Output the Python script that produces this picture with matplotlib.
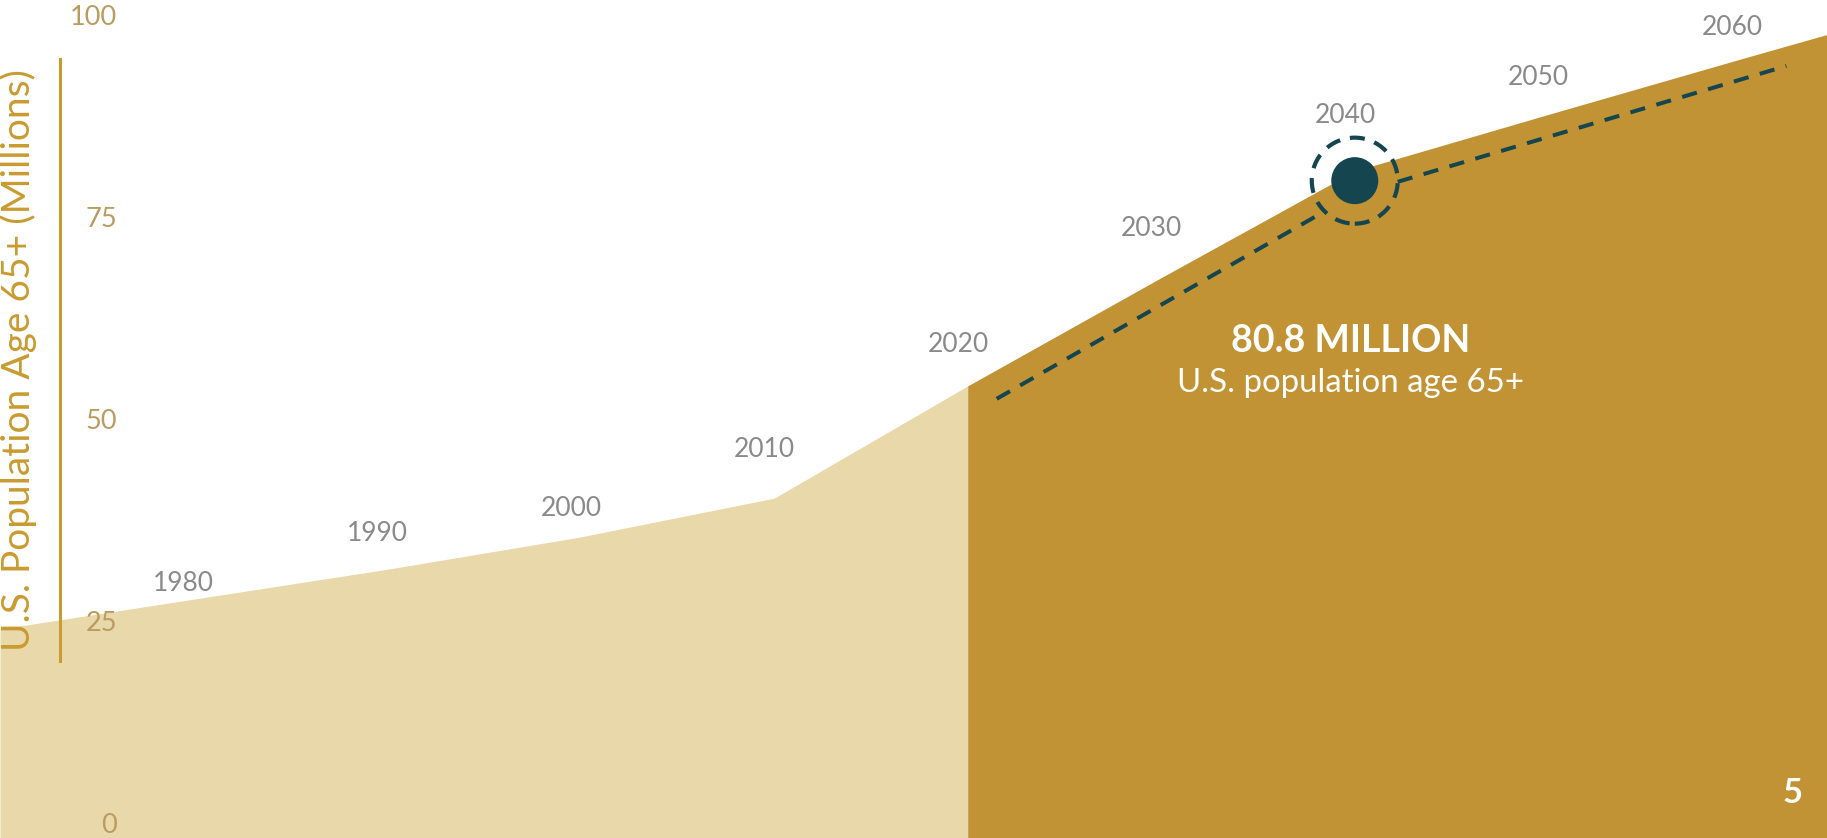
import matplotlib
matplotlib.use("Agg")
import matplotlib.pyplot as plt
from matplotlib.patches import Circle
from matplotlib.transforms import IdentityTransform
import numpy as np

# ----- datos -----
years_hist = [1970, 1980, 1990, 2000, 2010, 2020]
pop_hist = [24.0, 27.7, 31.4, 35.4, 40.2, 54.1]

years_proj = [2020, 2030, 2040, 2050, 2060, 2065]
pop_proj = [54.1, 67.5, 80.7, 87.7, 94.6, 98.0]

# línea de tendencia punteada
trend_years = [2021.5, 2039.9, 2062.3]
trend_vals = [52.5, 77.7, 93.7]

# punto destacado
mark_year = 2040
mark_val = 79.5

label_years = [1980, 1990, 2000, 2010, 2020, 2030, 2040, 2050, 2060]
label_vals = [28.7, 34.9, 38.0, 45.3, 58.3, 72.6, 86.6, 91.3, 97.5]

yticks = [0, 25, 50, 75, 100]

# ----- colores -----
LIGHT = "#E9D8A9"
DARK = "#C29334"
TEAL = "#15464F"
GOLD = "#C99B30"
TICK = "#BA9C61"
GRAY = "#8A8A8A"

plt.rcParams['font.family'] = ['Lato', 'DejaVu Sans']

fig = plt.figure(figsize=(18.27, 8.38), dpi=100)
ax = fig.add_axes([0, 0, 1, 1])
ax.set_xlim(1970, 2064.4)
ax.set_ylim(-1.86, 101.86)
ax.axis("off")

bottom = -1.86
ax.fill_between(years_hist, bottom, pop_hist, color=LIGHT, lw=0)
ax.fill_between(years_proj, bottom, pop_proj, color=DARK, lw=0)

# eje vertical decorativo
ax.axvline(1973.1, ymin=(20.0 - bottom) / 103.72, ymax=(94.6 - bottom) / 103.72,
           color=GOLD, lw=2.2)

for v in yticks:
    ax.text(1976.05, v - 1.2, str(v), ha="right", va="baseline",
            fontsize=19.5, color=TICK)

ax.text(1970.95, 57.3, "U.S. Population Age 65+ (Millions)", rotation=90,
        ha="center", va="center", fontsize=28, color=GOLD)

for yr, v in zip(label_years, label_vals):
    ax.text(yr - 0.5, v, str(yr), ha="center", va="baseline",
            fontsize=19, color=GRAY)

# círculo destacado y anillo punteado (en píxeles)
cx, cy = ax.transData.transform((mark_year, mark_val))
ring_r = 43
ax.add_patch(Circle((cx, cy), ring_r, transform=IdentityTransform(), fill=False,
                    ec=TEAL, lw=3.0, ls=(0, (3.6, 2.4)), zorder=4))
ax.add_patch(Circle((cx, cy), 23.5, transform=IdentityTransform(),
                    fc=TEAL, ec="none", zorder=5))

# línea punteada cortada en el anillo
pts = ax.transData.transform(np.column_stack([trend_years, trend_vals]))
inv = ax.transData.inverted()


def cut_at_ring(p_out, p_in):
    d = p_in - p_out
    # punto sobre el segmento a distancia ring_r del centro
    ts = np.linspace(0, 1, 2001)
    seg = p_out + ts[:, None] * d
    dist = np.hypot(seg[:, 0] - cx, seg[:, 1] - cy)
    k = np.argmax(dist <= ring_r)
    return seg[k]


a = cut_at_ring(pts[0], pts[1])
b = cut_at_ring(pts[2], pts[1])
for p, q in [(pts[0], a), (b, pts[2])]:
    seg = inv.transform(np.vstack([p, q]))
    ax.plot(seg[:, 0], seg[:, 1], color=TEAL, lw=2.9,
            ls=(0, (3.8, 2.9)), solid_capstyle="butt", zorder=3)

ax.text(2039.8, 58.3, "80.8 MILLION", ha="center", va="baseline",
        fontsize=27, fontweight="bold", color="white")
ax.text(2039.8, 53.4, "U.S. population age 65+", ha="center", va="baseline",
        fontsize=23.8, color="white")

fig.text(1793 / 1827, 1 - 803 / 838, "5", ha="center", va="baseline",
         fontsize=25, fontweight="bold", color="white")

fig.savefig("out.png", dpi=100)
